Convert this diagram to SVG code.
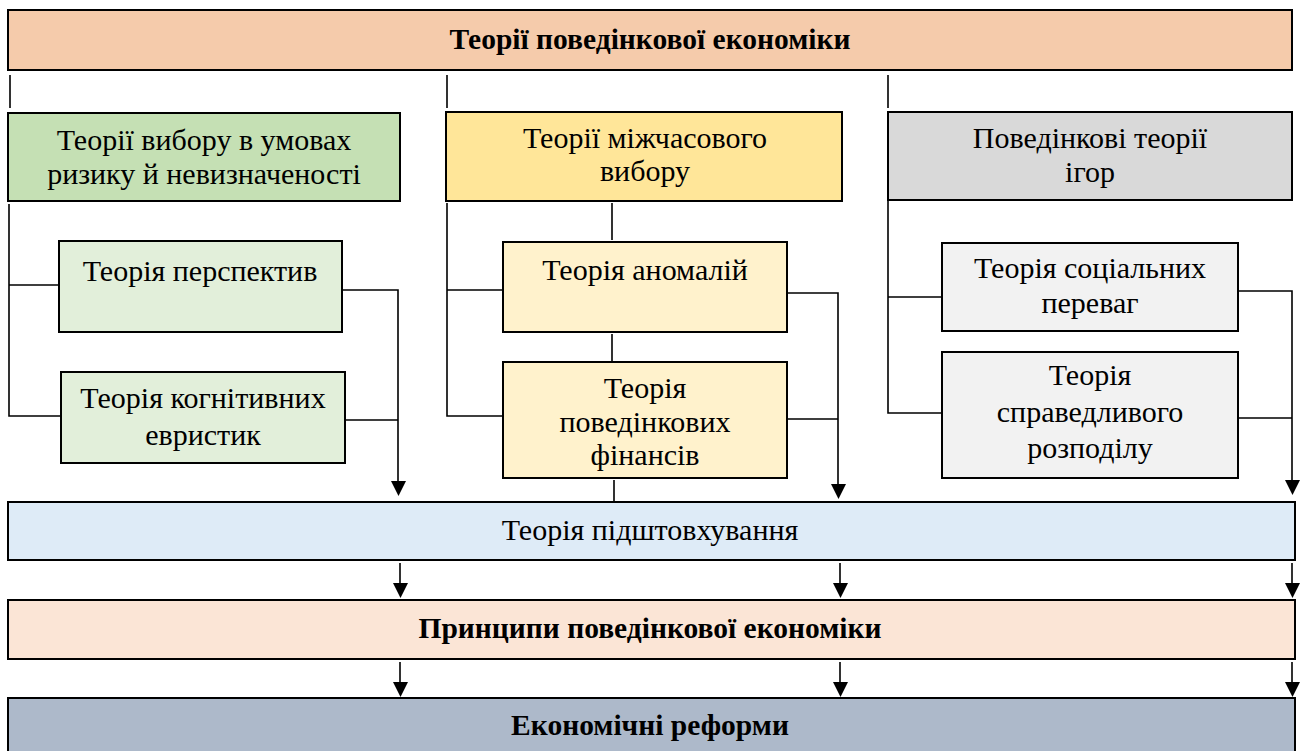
<svg xmlns="http://www.w3.org/2000/svg" width="1306" height="751" viewBox="0 0 1306 751">
<style>
.box{stroke:#000;stroke-width:2}
.t{font-family:"Liberation Serif","Times New Roman",serif;font-size:30px;fill:#000;text-anchor:middle}
.b{font-weight:bold;font-size:29.5px}
.ln{fill:none;stroke:#000;stroke-width:1.6}
</style>
<rect width="1306" height="751" fill="#fff"/>
<g id="connectors">
<path class="ln" d="M10,75 V108 M447,75 V108 M888,75 V108"/>
<path class="ln" d="M9,204 V416 H61 M9,285 H59"/>
<path class="ln" d="M342,290 H398 V482 M345,420 H398"/>
<path class="ln" d="M447,203 V416 H503 M447,290 H503"/>
<path class="ln" d="M612,203 V240 M612,334 V362 M614,480 V502"/>
<path class="ln" d="M787,293 H838 V485 M787,419 H838"/>
<path class="ln" d="M888,201 V413 H942 M888,297 H942"/>
<path class="ln" d="M1238,291 H1292 V481 M1238,418 H1292"/>
<path class="ln" d="M400,563 V583 M840,563 V583 M1292,563 V583"/>
<path class="ln" d="M400,662 V683 M840,662 V683 M1292,662 V683"/>
<g fill="#000">
<polygon points="391,481 406,481 398.5,496"/>
<polygon points="831,484 846,484 838.5,499"/>
<polygon points="1285,480 1300,480 1292.5,495"/>
<polygon points="393,583 408,583 400.5,598"/>
<polygon points="833,583 848,583 840.5,598"/>
<polygon points="1285,583 1300,583 1292.5,598"/>
<polygon points="393,682 408,682 400.5,697"/>
<polygon points="833,682 848,682 840.5,697"/>
<polygon points="1285,682 1300,682 1292.5,697"/>
</g>
</g>
<g id="n-top"><rect class="box" x="8" y="10" width="1284" height="60" fill="#F5CBAB"/><text class="t b" x="650" y="49">Теорії поведінкової економіки</text></g>
<g id="n-risk"><rect class="box" x="8" y="113" width="392" height="88" fill="#C5E0B4"/><text class="t" x="204" y="150">Теорії вибору в умовах</text><text class="t" x="204" y="184">ризику й невизначеності</text></g>
<g id="n-intertemp"><rect class="box" x="446" y="112" width="396" height="89" fill="#FFE699"/><text class="t" x="645" y="148">Теорії міжчасового</text><text class="t" x="645" y="181">вибору</text></g>
<g id="n-games"><rect class="box" x="888" y="112" width="404" height="88" fill="#D9D9D9"/><text class="t" x="1090" y="148">Поведінкові теорії</text><text class="t" x="1090" y="182">ігор</text></g>
<g id="n-prospect"><rect class="box" x="59" y="241" width="283" height="91" fill="#E2EFDA"/><text class="t" x="200" y="281">Теорія перспектив</text></g>
<g id="n-cognitive"><rect class="box" x="61" y="372" width="284" height="91" fill="#E2EFDA"/><text class="t" x="203" y="408">Теорія когнітивних</text><text class="t" x="203" y="445">евристик</text></g>
<g id="n-anomaly"><rect class="box" x="503" y="242" width="284" height="90" fill="#FFF2CC"/><text class="t" x="645" y="280">Теорія аномалій</text></g>
<g id="n-finance"><rect class="box" x="503" y="362" width="284" height="116" fill="#FFF2CC"/><text class="t" x="645" y="398">Теорія</text><text class="t" x="645" y="432">поведінкових</text><text class="t" x="645" y="465">фінансів</text></g>
<g id="n-social"><rect class="box" x="942" y="243" width="296" height="88" fill="#F2F2F2"/><text class="t" x="1090" y="278">Теорія соціальних</text><text class="t" x="1090" y="313">переваг</text></g>
<g id="n-fair"><rect class="box" x="942" y="352" width="296" height="126" fill="#F2F2F2"/><text class="t" x="1090" y="385">Теорія</text><text class="t" x="1090" y="422">справедливого</text><text class="t" x="1090" y="458">розподілу</text></g>
<g id="n-nudge"><rect class="box" x="8" y="502" width="1287" height="58" fill="#DEEBF7"/><text class="t" x="650" y="540">Теорія підштовхування</text></g>
<g id="n-principles"><rect class="box" x="8" y="600" width="1287" height="59" fill="#FBE5D6"/><text class="t b" x="650" y="638">Принципи поведінкової економіки</text></g>
<g id="n-reforms"><rect class="box" x="8" y="698" width="1287" height="60" fill="#ADB9CA"/><text class="t b" x="650" y="735">Економічні реформи</text></g>
</svg>
